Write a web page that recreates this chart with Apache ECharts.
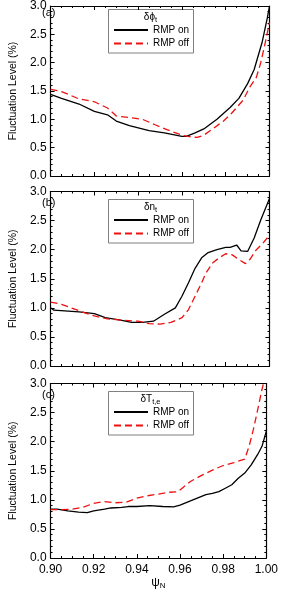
<!DOCTYPE html>
<html>
<head>
<meta charset="utf-8">
<script src="https://cdn.jsdelivr.net/npm/echarts@6/dist/echarts.min.js"></script>
<style>html,body{margin:0;padding:0;background:#fff}#c{width:281px;height:591px}</style>
</head>
<body>
<div id="c"></div>
<script>
// ---- data ----
const xTicks = [0.90, 0.92, 0.94, 0.96, 0.98, 1.00];
const yTicks = [0.0, 0.5, 1.0, 1.5, 2.0, 2.5, 3.0];
const seriesNames = ['RMP on', 'RMP off'];
const panelLabels = ['(a)', '(b)', '(c)'];

const psiA_on  = [0.900,0.905,0.913,0.920,0.926,0.930,0.936,0.945,0.952,0.960,0.962,0.966,0.970,0.976,0.982,0.986,0.990,0.993,0.9967,0.999,1.000];
const flucA_on = [1.44,1.37,1.27,1.14,1.08,0.97,0.89,0.80,0.76,0.70,0.70,0.76,0.83,1.00,1.21,1.37,1.63,1.88,2.37,2.79,3.00];
const psiA_off  = [0.900,0.905,0.913,0.920,0.926,0.930,0.936,0.942,0.948,0.955,0.960,0.964,0.967,0.970,0.974,0.979,0.983,0.988,0.991,0.994,0.996,0.998,1.000];
const flucA_off = [1.53,1.49,1.36,1.31,1.20,1.06,1.03,1.00,0.90,0.79,0.72,0.69,0.68,0.72,0.83,0.97,1.12,1.34,1.57,1.74,2.00,2.34,2.71];

const psiB_on  = [0.900,0.9015,0.913,0.920,0.925,0.932,0.937,0.942,0.947,0.952,0.957,0.960,0.963,0.966,0.969,0.972,0.976,0.980,0.982,0.985,0.987,0.990,0.993,0.996,1.000];
const flucB_on = [1.00,0.96,0.93,0.90,0.83,0.79,0.75,0.75,0.77,0.89,1.00,1.20,1.43,1.68,1.86,1.95,2.00,2.04,2.04,2.08,1.98,1.97,2.20,2.51,2.88];
const psiB_off  = [0.900,0.905,0.913,0.920,0.926,0.932,0.940,0.945,0.950,0.955,0.960,0.963,0.966,0.969,0.971,0.974,0.977,0.980,0.983,0.986,0.989,0.991,0.994,0.997,1.000];
const flucB_off = [1.10,1.06,0.95,0.86,0.81,0.79,0.77,0.73,0.72,0.75,0.83,0.97,1.20,1.43,1.60,1.77,1.86,1.93,1.91,1.83,1.76,1.83,2.00,2.11,2.25];

const psiC_on  = [0.900,0.903,0.908,0.913,0.917,0.920,0.925,0.928,0.933,0.936,0.940,0.946,0.952,0.957,0.960,0.964,0.968,0.972,0.975,0.978,0.981,0.984,0.987,0.990,0.993,0.996,0.998,1.000];
const flucC_on = [0.84,0.84,0.81,0.79,0.78,0.81,0.84,0.86,0.87,0.885,0.885,0.90,0.885,0.88,0.91,0.97,1.03,1.09,1.11,1.14,1.20,1.26,1.37,1.46,1.60,1.78,1.92,2.18];
const psiC_off  = [0.900,0.905,0.910,0.915,0.920,0.925,0.930,0.935,0.940,0.945,0.950,0.955,0.959,0.961,0.965,0.970,0.975,0.980,0.985,0.990,0.992,0.994,0.996,0.998,0.999];
const flucC_off = [0.83,0.83,0.84,0.87,0.94,0.97,0.95,0.96,1.03,1.07,1.10,1.13,1.14,1.20,1.32,1.42,1.51,1.59,1.64,1.70,1.92,2.21,2.55,2.90,3.05];

const panels = [
  { label: panelLabels[0], title: '{m|δϕ}{s|t}',  on: [psiA_on, flucA_on], off: [psiA_off, flucA_off] },
  { label: panelLabels[1], title: '{m|δn}{s|t}',  on: [psiB_on, flucB_on], off: [psiB_off, flucB_off] },
  { label: panelLabels[2], title: '{m|δT}{s|t,e}', on: [psiC_on, flucC_on], off: [psiC_off, flucC_off] }
];

// ---- layout ----
const FONT = 'Liberation Sans, Arial, Helvetica, sans-serif';
const gridLeft = 36, gridWidth = 233.5;
const gridTops = [1.5, 191.5, 383.5];
const gridH = 174.5;

const zip = (xs, ys) => xs.map((x, i) => [x, ys[i]]);

const option = {
  animation: false,
  backgroundColor: '#fff',
  textStyle: { fontFamily: FONT },
  grid: [], xAxis: [], yAxis: [], series: [], legend: [], title: [], graphic: []
};

const tickStyle = { color: '#000', width: 1 };

panels.forEach((p, i) => {
  const top = gridTops[i];
  option.grid.push({ left: gridLeft, top: top, width: gridWidth, height: gridH, containLabel: false });
  const isLast = i === panels.length - 1;
  const baseX = {
    type: 'value', gridIndex: i, min: xTicks[0], max: xTicks[xTicks.length - 1], interval: 0.02,
    axisLine: { show: true, onZero: false, lineStyle: { color: '#000', width: 1.2 } },
    axisTick: { show: true, inside: true, length: 4, lineStyle: tickStyle },
    minorTick: { show: true, splitNumber: 4, length: 2, lineStyle: tickStyle },
    splitLine: { show: false }, minorSplitLine: { show: false }
  };
  option.xAxis.push(Object.assign({}, baseX, {
    position: 'bottom',
    axisLabel: { show: isLast, color: '#000', fontSize: 12, margin: 6, fontFamily: FONT,
                 formatter: v => v.toFixed(2) },
    name: isLast ? '{m|ψ}{s|N}' : '',
    nameLocation: 'middle', nameGap: 18,
    nameTextStyle: { color: '#000', rich: {
      m: { fontSize: 12, fontFamily: FONT, color: '#000' },
      s: { fontSize: 8, fontFamily: FONT, color: '#000', padding: [6, 0, 0, 0] } } }
  }));
  option.xAxis.push(Object.assign({}, baseX, { position: 'top', axisLabel: { show: false } }));
  const baseY = {
    type: 'value', gridIndex: i, min: 0, max: 3, interval: 0.5,
    axisLine: { show: true, onZero: false, lineStyle: { color: '#000', width: 1.2 } },
    axisTick: { show: true, inside: true, length: 4, lineStyle: tickStyle },
    minorTick: { show: true, splitNumber: 5, length: 2, lineStyle: tickStyle },
    splitLine: { show: false }, minorSplitLine: { show: false }
  };
  option.yAxis.push(Object.assign({}, baseY, {
    position: 'left',
    axisLabel: { show: true, color: '#000', fontSize: 12, margin: 4, fontFamily: FONT,
                 formatter: v => v.toFixed(1) },
    name: 'Fluctuation Level (%)', nameLocation: 'middle', nameGap: 27,
    nameTextStyle: { color: '#000', fontSize: 10.5, fontFamily: FONT }
  }));
  option.yAxis.push(Object.assign({}, baseY, { position: 'right', axisLabel: { show: false } }));

  option.series.push({
    name: seriesNames[0], type: 'line', xAxisIndex: 2 * i, yAxisIndex: 2 * i,
    data: zip(p.on[0], p.on[1]), symbol: 'none', clip: true,
    lineStyle: { color: '#000', width: 1.3, type: 'solid' }, itemStyle: { color: '#000' }
  });
  option.series.push({
    name: seriesNames[1], type: 'line', xAxisIndex: 2 * i, yAxisIndex: 2 * i,
    data: zip(p.off[0], p.off[1]), symbol: 'none', clip: true,
    lineStyle: { color: '#ee1111', width: 1.3, type: [7, 4] }, itemStyle: { color: '#ee1111' }
  });

  const boxTop = top + 7.5;
  option.graphic.push({
    type: 'rect', left: 108, top: boxTop, silent: true,
    shape: { width: 85, height: 43.5 },
    style: { fill: 'rgba(0,0,0,0)', stroke: '#808080', lineWidth: 1 }
  });
  option.title.push({
    text: p.title, left: 150.5, top: boxTop + 2, textAlign: 'center', padding: 0,
    textStyle: { fontWeight: 'normal', rich: {
      m: { fontSize: 10, fontFamily: FONT, color: '#000', fontWeight: 'normal' },
      s: { fontSize: 7.5, fontFamily: FONT, color: '#000', fontWeight: 'normal', padding: [5, 0, 0, 0] } } }
  });
  option.title.push({
    text: p.label, left: 42, top: top + 6, padding: 0,
    textStyle: { fontSize: 11, fontWeight: 'normal', fontFamily: FONT, color: '#000' }
  });
  option.legend.push({
    data: seriesNames, orient: 'vertical', left: 113, top: boxTop + 16, padding: 0,
    itemWidth: 34, itemHeight: 8, itemGap: 3.5, selectedMode: false,
    itemStyle: { opacity: 0, borderWidth: 0 },
    textStyle: { fontSize: 10, color: '#000', fontFamily: FONT, padding: [0, 0, 0, 0] }
  });
});

const chart = echarts.init(document.getElementById('c'), null, { renderer: 'canvas' });
chart.setOption(option);
</script>
</body>
</html>
